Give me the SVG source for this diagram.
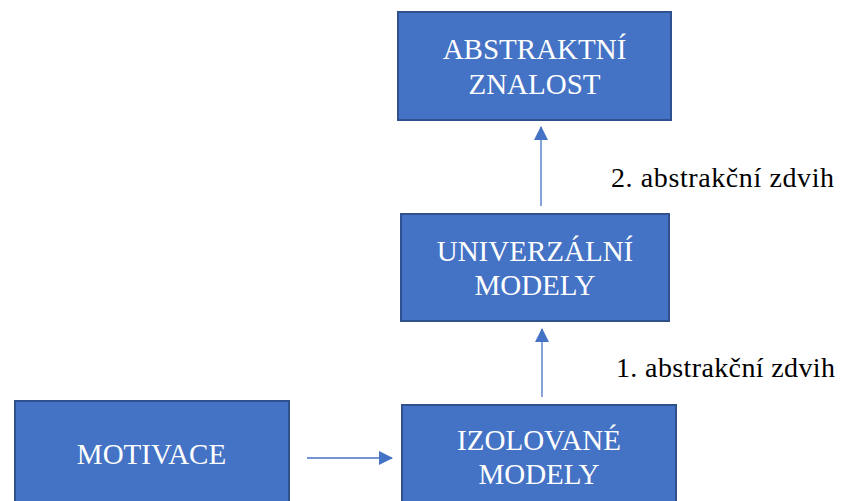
<svg xmlns="http://www.w3.org/2000/svg" width="841" height="501" viewBox="0 0 841 501">
<style>
.box{fill:#4472C4;stroke:#2F528F;stroke-width:2}
.bt{fill:#FFFFFF;font-family:'Liberation Serif','Times New Roman','DejaVu Serif',serif;font-size:29px;text-anchor:middle}
.lbl{fill:#000000;font-family:'Liberation Serif','Times New Roman','DejaVu Serif',serif;font-size:28px}
.conn{stroke:#4472C4;stroke-width:1.3;fill:none}
</style>
<defs>
<marker id="ah" viewBox="0 0 14 14" refX="13" refY="7" markerWidth="14" markerHeight="14" markerUnits="userSpaceOnUse" orient="auto">
<path d="M0,0 L14,7 L0,14 Z" fill="#4472C4"/>
</marker>
</defs>
<rect width="841" height="501" fill="#FFFFFF"/>
<g id="abstraktni-znalost">
<rect class="box" x="398" y="12" width="273" height="108"/>
<text class="bt" x="534.5" y="59">ABSTRAKTNÍ</text>
<text class="bt" x="534.5" y="94">ZNALOST</text>
</g>
<g id="univerzalni-modely">
<rect class="box" x="401" y="214" width="268" height="107"/>
<text class="bt" x="535" y="261">UNIVERZÁLNÍ</text>
<text class="bt" x="535" y="295">MODELY</text>
</g>
<g id="motivace">
<rect class="box" x="15" y="401" width="274" height="120"/>
<text class="bt" x="151.5" y="464">MOTIVACE</text>
</g>
<g id="izolovane-modely">
<rect class="box" x="402" y="405" width="274" height="120"/>
<text class="bt" x="539" y="450">IZOLOVANÉ</text>
<text class="bt" x="539" y="484">MODELY</text>
</g>
<g id="connectors">
<line class="conn" x1="307" y1="458" x2="392" y2="458" marker-end="url(#ah)"/>
<line class="conn" x1="542" y1="397" x2="542" y2="329" marker-end="url(#ah)"/>
<line class="conn" x1="541" y1="206" x2="541" y2="127" marker-end="url(#ah)"/>
</g>
<g id="labels">
<text class="lbl" x="611" y="187" textLength="223" lengthAdjust="spacing">2. abstrakční zdvih</text>
<text class="lbl" x="616" y="377" textLength="219" lengthAdjust="spacing">1. abstrakční zdvih</text>
</g>
</svg>
